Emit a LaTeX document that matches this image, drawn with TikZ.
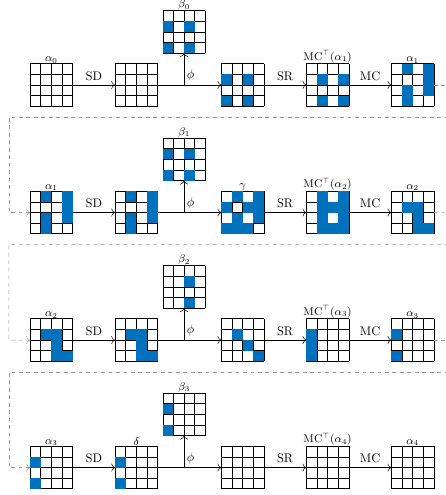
\documentclass[tikz,border=0pt]{standalone}
\usepackage{amsmath,amssymb}
\usepackage{tikz}
\usetikzlibrary{arrows.meta,calc}
\usepackage{xcolor}
\definecolor{cellblue}{RGB}{0,114,189}
\definecolor{loopgray}{RGB}{150,150,150}

\tikzset{
  gridbox/.style={minimum size=1.2cm,inner sep=0pt,outer sep=0pt},
  gridline/.style={line width=0.5pt,black},
  glabel/.style={anchor=south,inner sep=0pt,outer sep=0pt,yshift=0.5pt,font=\small},
  flow/.style={-{To[length=3pt]}},
  loopback/.style={loopgray,dashed,-{To[length=3pt]}},
}

% 4x4 state grid: label, name, centre
\newcommand{\stategrid}[3][]{%
  \node[gridbox] (#2) at (#3) {};
  \node[glabel] (#2-lbl) at (#2.north) {#1};
  \foreach \i in {0,...,4} {
    \draw[gridline] ($(#2.south west)+(0.3*\i,0)$) -- ++(0,1.2);
    \draw[gridline] ($(#2.south west)+(0,0.3*\i)$) -- ++(1.2,0);
  }
}
% active cells, row/col from the top left
\newcommand{\fillcells}[2]{%
  \foreach \r/\c in {#2}
    \fill[cellblue] ($(#1.north west)+(0.3*\c,-0.3*\r)$) rectangle ++(0.3,-0.3);
}

\begin{document}
\begin{tikzpicture}
\useasboundingbox (-1.448,-11.575) rectangle (11.143,2.400);
% round 0
\stategrid[$\alpha_0$]{in0}{0,0}
\stategrid{sd0}{2.4,0}
\stategrid[$\beta_0$]{beta0}{3.75,1.5}
\fillcells{beta0}{1/0,1/2,3/0,3/2}
\stategrid{add0}{5.4,0}
\fillcells{add0}{1/0,1/2,3/0,3/2}
\stategrid[$\mathrm{MC}^{\top}(\alpha_1)$]{sr0}{7.8,0}
\fillcells{sr0}{1/1,1/3,3/1,3/3}
\stategrid[$\alpha_1$]{out0}{10.2,0}
\fillcells{out0}{0/1,2/1,3/1,0/3,1/3,2/3}
% round 1
\stategrid[$\alpha_1$]{in1}{0,-3.6}
\fillcells{in1}{0/1,2/1,3/1,0/3,1/3,2/3}
\stategrid{sd1}{2.4,-3.6}
\fillcells{sd1}{0/1,2/1,3/1,0/3,1/3,2/3}
\stategrid[$\beta_1$]{beta1}{3.75,-2.1}
\fillcells{beta1}{1/0,1/2,3/0,3/2}
\stategrid[$\gamma$]{add1}{5.4,-3.6}
\fillcells{add1}{0/1,0/3,1/0,1/2,1/3,2/1,2/3,3/0,3/1,3/2}
\stategrid[$\mathrm{MC}^{\top}(\alpha_2)$]{sr1}{7.8,-3.6}
\fillcells{sr1}{0/1,0/3,1/1,1/2,1/3,2/1,2/3,3/1,3/2,3/3}
\stategrid[$\alpha_2$]{out1}{10.2,-3.6}
\fillcells{out1}{1/1,1/2,2/2,3/2,3/3}
% round 2
\stategrid[$\alpha_2$]{in2}{0,-7.2}
\fillcells{in2}{1/1,1/2,2/2,3/2,3/3}
\stategrid{sd2}{2.4,-7.2}
\fillcells{sd2}{1/1,1/2,2/2,3/2,3/3}
\stategrid[$\beta_2$]{beta2}{3.75,-5.7}
\fillcells{beta2}{1/2,3/2}
\stategrid{add2}{5.4,-7.2}
\fillcells{add2}{1/1,2/2,3/3}
\stategrid[$\mathrm{MC}^{\top}(\alpha_3)$]{sr2}{7.8,-7.2}
\fillcells{sr2}{1/0,2/0,3/0}
\stategrid[$\alpha_3$]{out2}{10.2,-7.2}
\fillcells{out2}{1/0,3/0}
% round 3
\stategrid[$\alpha_3$]{in3}{0,-10.8}
\fillcells{in3}{1/0,3/0}
\stategrid[$\delta$]{sd3}{2.4,-10.8}
\fillcells{sd3}{1/0,3/0}
\stategrid[$\beta_3$]{beta3}{3.75,-9.3}
\fillcells{beta3}{1/0,3/0}
\stategrid{add3}{5.4,-10.8}
\stategrid[$\mathrm{MC}^{\top}(\alpha_4)$]{sr3}{7.8,-10.8}
\stategrid[$\alpha_4$]{out3}{10.2,-10.8}

\foreach \k in {0,...,3} {
  \coordinate (br\k) at (beta\k |- sd\k);
  \draw[flow] (in\k) -- node[above] {SD} (sd\k);
  \draw[flow] (sd\k) -- (add\k);
  \draw[flow] (br\k) -- node[pos=0.3,right,inner sep=2pt] {$\phi$} (beta\k);
  \draw[flow] (add\k) -- node[above] {SR} (sr\k);
  \draw[flow] (sr\k) -- node[above] {MC} (out\k);
}
% feed the output back into the next round
\foreach \k/\n in {0/1,1/2,2/3} {
  \coordinate (ret\n) at ($(out\k)+(1.2,2.7-3.6)$);
  \coordinate (back\n) at ($(in\n)+(-1.2,2.7)$);
  \draw[loopback] (out\k) -| (ret\n) -- (back\n) |- (in\n);
}
\end{tikzpicture}
\end{document}
